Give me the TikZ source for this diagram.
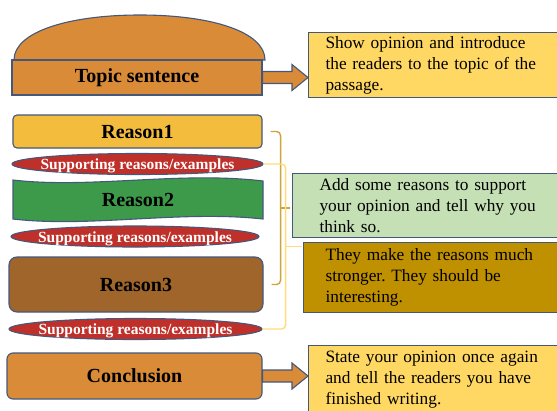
\documentclass[tikz,border=0pt]{standalone}
\usepackage{fontspec}
\setmainfont{Liberation Serif}
\usetikzlibrary{calc,shapes.geometric}
\definecolor{outl}{HTML}{44587C}
\definecolor{orangeF}{HTML}{D98B38}
\definecolor{reason1F}{HTML}{F4BC3C}
\definecolor{reason2F}{HTML}{3D9A4B}
\definecolor{reason3F}{HTML}{A0652B}
\definecolor{suppF}{HTML}{C0302A}
\definecolor{yellowF}{HTML}{FFD864}
\definecolor{greenF}{HTML}{C5E0B4}
\definecolor{goldF}{HTML}{BF9000}
\definecolor{brAcol}{HTML}{CFA33E}
\definecolor{brBcol}{HTML}{FFDC78}
\frenchspacing
\begin{document}
\begin{tikzpicture}[x=1pt,y=-1pt,
  outline/.style={draw=outl, line width=1.1pt},
  bigtxt/.style={font=\fontsize{20}{24}\selectfont\bfseries, text=black},
  barbox/.style={outline, rectangle, inner sep=0pt, bigtxt},
  supp/.style={outline, ellipse, fill=suppF, inner sep=0pt, text height=11pt, text depth=0pt,
    font=\fontsize{15.5}{18}\selectfont\bfseries, text=white},
  infobox/.style={outline, rectangle, anchor=north west, inner ysep=0pt, text width=240pt,
    align=left, font=\fontsize{17.3}{21}\selectfont, text=black},
  blockarrow/.style={outline, fill=orangeF, line join=miter},
  brA/.style={draw=brAcol, line width=1.4pt, rounded corners=4pt},
  brB/.style={draw=brBcol, line width=1.4pt, rounded corners=4pt}
]
\useasboundingbox (0,0) rectangle (557,410);
\clip (0,0) rectangle (557,410);

% bun top
\draw[outline, fill=orangeF] (14,60) .. controls (14,32) and (68,15) .. (140,15)
  .. controls (212,15) and (265,32) .. (265,60) -- cycle;
\node[barbox, fill=orangeF, minimum width=250pt, minimum height=35pt] (topic) at (137,77.5) {Topic sentence};

% reasons
\node[barbox, fill=reason1F, rounded corners=4pt, minimum width=249pt, minimum height=33pt] (r1) at (137.5,131.5) {Reason1};
\node[supp, minimum width=251pt, minimum height=21pt] (s1) at (137.5,164) {\makebox[0pt]{Supporting reasons/examples}};

\draw[outline, fill=reason2F] (13,180) .. controls (90,189) and (180,171) .. (263,181)
  -- (263,219) .. controls (180,210) and (90,228) .. (13,219) -- cycle;
\node[bigtxt, minimum width=250pt, minimum height=38pt, inner sep=0pt] (r2) at (138,200) {Reason2};

\node[supp, minimum width=248pt, minimum height=21pt] (s2) at (135,236.5) {\makebox[0pt]{Supporting reasons/examples}};

\node[barbox, fill=reason3F, rounded corners=8pt, minimum width=254pt, minimum height=55pt] (r3) at (136,284.5) {Reason3};
\node[supp, minimum width=253pt, minimum height=21pt] (s3) at (135.5,329) {\makebox[0pt]{Supporting reasons/examples}};

\node[barbox, fill=orangeF, rounded corners=6pt, minimum width=255pt, minimum height=46pt] (concl) at (134.5,376) {Conclusion};

% info boxes
\node[infobox, fill=yellowF, inner xsep=17pt, minimum height=65pt] (b1) at (308,32)
  {Show opinion and introduce\\the readers to the topic of the\\passage.};
\node[infobox, fill=greenF, inner xsep=27pt, minimum height=64pt] (gbox) at (292,173)
  {Add some reasons to support\\your opinion and tell why you\\think so.};
\node[infobox, fill=goldF, inner xsep=22pt, minimum height=70pt] (gold) at (303,242)
  {They make the reasons much\\stronger. They should be\\interesting.};
\node[infobox, fill=yellowF, inner xsep=17pt, minimum height=68pt] (b5) at (308,345)
  {State your opinion once again\\and tell the readers you have\\finished writing.};

% block arrows
\coordinate (t1) at (b1.west |- topic.east);
\draw[blockarrow] ($(topic.east)+(0,-6)$) -- ($(t1)+(-16,-6)$) -- ($(t1)+(-16,-13)$) -- (t1)
  -- ($(t1)+(-16,13)$) -- ($(t1)+(-16,6)$) -- ($(topic.east)+(0,6)$) -- cycle;
\coordinate (t5) at (b5.west |- concl.east);
\draw[blockarrow] ($(concl.east)+(0,-6)$) -- ($(t5)+(-16,-6)$) -- ($(t5)+(-16,-13)$) -- (t5)
  -- ($(t5)+(-16,13)$) -- ($(t5)+(-16,6)$) -- ($(concl.east)+(0,6)$) -- cycle;

% brackets
\draw[brA] ([xshift=8pt]r1.east) -- ++(10,0) |- ([xshift=8pt]r3.east);
\coordinate (ma) at ($(r1.east)!0.5!(r3.east)$);
\draw[brA] ($(ma)+(17.5,0)$) -- ($(gbox.west |- ma)+(-2,0)$);
\draw[brB] (s1.east) -- ++(22,0) |- (s3.east);
\coordinate (mb) at ($(s1.east)!0.5!(s3.east)$);
\draw[brB] ($(mb)+(22.5,0)$) -- ($(gold.west |- mb)+(-1.5,0)$);
\end{tikzpicture}
\end{document}
